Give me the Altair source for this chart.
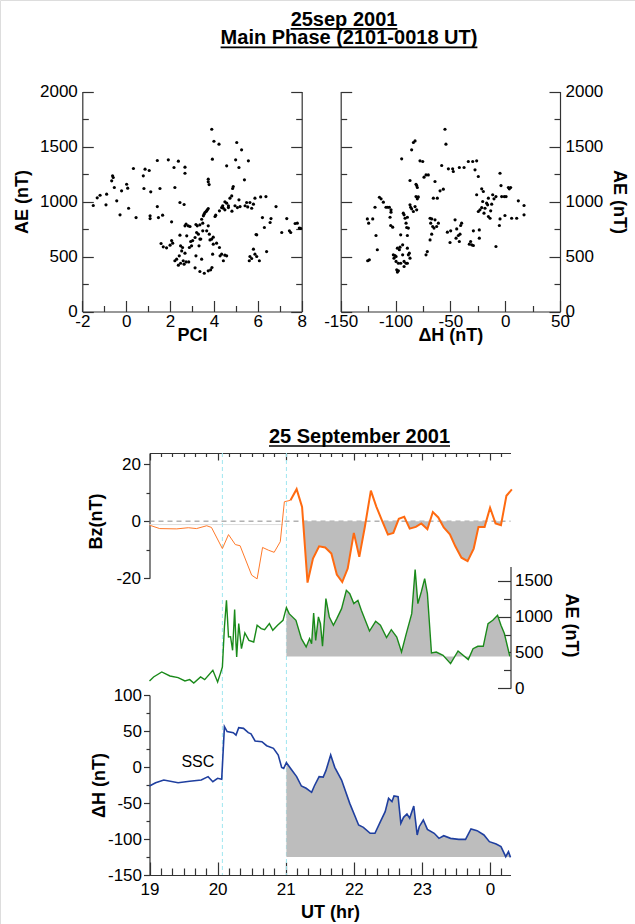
import altair as alt
import pandas as pd

FONT = "Liberation Sans"
AXC = "#333333"
VW, VH = 635, 924   # one view covering the whole page; every panel gets pixel ranges

# ---------------- scatter data (main phase) ----------------
pci_x = [-1.50, -1.32, -1.19, -0.89, -0.92, -0.66, -0.62, -0.59, -0.54, -0.43, -0.28, -0.21, 0.02, 0.07, 0.11,
         0.33, 0.45, 0.78, 0.81, 0.86, 1.05, 1.12, 1.09, 1.09, 1.42, 1.54, 1.42, 1.47, 1.66, 1.92, 2.07, 2.18,
         2.22, 2.38, 2.45, 2.64, 2.68, 2.68, 1.59, 1.69, 1.84, 2.00, 2.07, 2.12, 2.22, 2.30, 2.38, 2.42, 2.45,
         2.48, 2.53, 2.57, 2.60, 2.64, 2.68, 2.73, 2.85, 2.68, 2.73, 2.76, 2.83, 2.91, 2.94, 3.03, 3.14, 3.18,
         3.21, 3.29, 3.32, 3.36, 3.40, 3.44, 3.49, 3.52, 3.55, 3.59, 3.64, 3.67, 3.70, 3.74, 3.67, 3.74, 3.79,
         3.82, 3.90, 3.97, 3.49, 3.24, 3.36, 3.14, 3.36, 3.56, 3.74, 3.85, 3.91, 3.94, 3.97, 4.05, 4.08, 4.12,
         4.25, 4.28, 4.35, 4.43, 4.50, 4.58, 4.40, 4.50, 4.58, 4.66, 4.73, 4.81, 4.85, 4.88, 4.25, 4.35, 4.43,
         4.50, 4.66, 4.82, 4.96, 5.07, 5.14, 5.19, 5.42, 5.54, 5.49, 5.64, 5.72, 5.80, 5.87, 5.95, 5.92, 5.80,
         5.64, 5.72, 5.61, 5.87, 5.95, 6.07, 6.37, 6.40, 6.21, 6.30, 6.56, 6.60, 6.83, 7.09, 7.32, 7.44, 7.50,
         7.70, 7.80, 7.89, 7.95, 3.74, 3.78, 3.74, 3.90, 3.93, 4.00, 4.23, 4.58, 4.99, 5.04, 5.14, 5.26, 5.39,
         5.57, 6.13, 2.88, 2.98, 3.18, 3.44, 2.48]
pci_ae = [964, 1033, 1057, 1067, 970, 1188, 1233, 1218, 1127, 1006, 879, 1097, 1157, 1121, 939,
          1300, 854, 1233, 1118, 1294, 1282, 1088, 870, 845, 1373, 1118, 954, 854, 876, 1379, 815, 1309,
          1127, 1367, 991, 973, 1312, 1257, 618, 588, 579, 603, 645, 621, 461, 476, 421, 506, 694,
          597, 551, 582, 461, 430, 530, 451, 451, 779, 794, 688, 779, 773, 636, 645, 673, 791,
          718, 703, 597, 788, 658, 839, 803, 870, 885, 900, 909, 915, 924, 936, 733, 779, 703,
          651, 658, 676, 733, 779, 658, 397, 364, 348, 370, 379, 400, 521, 612, 864, 876, 621,
          582, 506, 521, 461, 512, 506, 961, 997, 985, 961, 1030, 1051, 1118, 1136, 915, 945, 939,
          924, 945, 912, 961, 945, 1015, 954, 961, 951, 991, 991, 939, 976, 1030, 697, 700, 567,
          500, 482, 461, 521, 500, 461, 1045, 545, 854, 764, 809, 845, 954, 718, 845, 733, 718,
          800, 803, 758, 755, 1179, 1154, 1203, 1657, 1385, 1548, 1521, 1324, 1379, 1536, 1309, 1470, 1197,
          1370, 1042, 582, 597, 506, 476, 439]

dh_x = [-125.4, -123.9, -125.7, -124.5, -120.8, -117.8, -116.6, -118.7, -114.7, -113.2, -111.1, -108.7, -107.1,
        -105.6, -104.1, -104.1, -105.0, -104.4, -102.6, -102.0, -100.5, -101.4, -99.5, -98.9, -98.3, -97.4,
        -99.5, -98.3, -96.5, -95.9, -95.3, -94.4, -93.5, -92.9, -92.2, -91.3, -90.4, -89.8, -89.2, -88.3,
        -89.2, -88.3, -87.4, -86.8, -93.5, -92.2, -90.4, -89.2, -92.2, -95.3, -97.4, -89.2, -86.8, -86.2,
        -85.3, -86.8, -85.3, -83.7, -82.2, -81.3, -80.7, -80.1, -79.2, -80.1, -81.3, -82.2, -83.7, -80.7,
        -77.7, -75.2, -74.0, -72.2, -70.1, -68.5, -67.9, -67.0, -66.1, -64.9, -64.0, -62.5, -60.9, -71.0,
        -72.2, -68.5, -67.0, -65.5, -64.0, -61.9, -59.4, -57.9, -56.4, -54.9, -54.0, -52.7, -51.8, -47.9,
        -49.7, -50.3, -47.3, -45.7, -44.8, -44.2, -42.7, -41.8, -41.2, -40.6, -39.7, -41.8, -37.5, -33.6,
        -32.7, -31.5, -30.5, -29.0, -29.0, -29.6, -27.5, -26.0, -24.5, -26.0, -24.5, -23.0, -23.6, -23.6,
        -21.4, -20.5, -19.9, -21.4, -19.3, -18.4, -16.9, -16.0, -15.3, -15.3, -13.8, -12.3, -13.2, -11.4,
        -10.2, -8.4, -4.7, -5.3, -4.7, -3.2, -0.8, 0.8, -0.2, 2.9, 3.8, 5.0, 5.9, 10.5, 12.0, 17.2, 17.2,
        -8.4, -3.8]
dh_ae = [461, 470, 842, 803, 842, 691, 561, 948, 1039, 1024, 994, 948, 948,
         948, 924, 903, 857, 782, 767, 515, 509, 485, 500, 379, 358, 370,
         455, 576, 561, 585, 697, 1388, 606, 894, 879, 848, 803, 764, 691, 758,
         576, 515, 530, 485, 515, 455, 439, 439, 409, 439, 439, 857, 970, 948,
         933, 1191, 1470, 1536, 1551, 1157, 1145, 1127, 1042, 1024, 1045, 954, 909, 924,
         1370, 1364, 1221, 1242, 1242, 848, 803, 842, 773, 758, 833, 773, 803, 545,
         515, 651, 703, 1030, 1182, 1030, 1097, 1327, 1112, 1657, 1521, 721, 1297, 1297,
         733, 627, 1273, 833, 667, 751, 691, 1309, 703, 782, 803, 636, 1309, 1364,
         612, 636, 606, 600, 733, 1364, 1288, 1370, 1227, 1061, 909, 924, 742, 667,
         945, 1000, 1091, 1115, 894, 939, 985, 970, 864, 1030, 848, 976, 915, 1061,
         1024, 1045, 1257, 782, 842, 1045, 1045, 1045, 873, 1127, 1115, 1127, 848, 848, 1006, 964, 879,
         591, 1145]

# ---------------- time series, 25 September 2001 (UT hours, 24 = 00 UT) ----------------
bz_t = [19.00, 19.15, 19.40, 19.57, 19.69, 19.84, 19.91, 20.07, 20.16, 20.26, 20.33, 20.50, 20.58, 20.66,
        20.75, 20.83, 20.92, 20.98, 21.07, 21.16, 21.24, 21.32, 21.40, 21.49, 21.58, 21.67, 21.75, 21.83,
        21.91, 22.00, 22.08, 22.16, 22.25, 22.33, 22.42, 22.50, 22.58, 22.66, 22.74, 22.82, 22.91, 22.99,
        23.08, 23.16, 23.24, 23.32, 23.41, 23.49, 23.58, 23.67, 23.76, 23.83, 23.92, 24.00, 24.08, 24.16,
        24.24, 24.32]
bz_v = [-1.4, -2.6, -2.7, -2.3, -2.6, -1.6, -2.2, -9.6, -4.7, -8.2, -8.6, -18.9, -20.2, -9.2,
        -10.2, -10.9, -7.2, 6.8, 7.3, 11.2, 5.0, -21.5, -13.1, -8.8, -9.2, -11.3, -18.7, -21.3,
        -16.6, -4.1, -12.5, -2.2, 10.7, 5.1, -0.2, -4.7, -4.1, 0.8, 1.5, -2.6, -2.0, -0.8,
        -2.8, 3.2, 1.3, -2.2, -4.6, -8.8, -12.8, -14.0, -9.6, -2.0, -2.0, 4.7, -0.8, -1.4,
        8.9, 11.1]

ae_t = [19.00, 19.06, 19.18, 19.30, 19.42, 19.52, 19.59, 19.65, 19.75, 19.81, 19.93, 20.00, 20.04, 20.07,
        20.10, 20.13, 20.16, 20.19, 20.22, 20.25, 20.27, 20.28, 20.31, 20.35, 20.40, 20.46, 20.53, 20.58,
        20.64, 20.69, 20.76, 20.81, 20.88, 20.96, 21.01, 21.05, 21.15, 21.23, 21.30, 21.35, 21.38, 21.41,
        21.44, 21.48, 21.51, 21.54, 21.59, 21.64, 21.70, 21.75, 21.82, 21.89, 21.94, 22.00, 22.06, 22.11,
        22.23, 22.32, 22.39, 22.48, 22.55, 22.63, 22.70, 22.77, 22.85, 22.90, 22.94, 22.99, 23.04, 23.08,
        23.14, 23.21, 23.31, 23.42, 23.53, 23.68, 23.75, 23.82, 23.90, 23.97, 24.04, 24.11, 24.16, 24.21,
        24.29]
ae_v = [102, 158, 228, 172, 149, 102, 121, 74, 158, 121, 251, 88, 205, 297,
        855, 1227, 716, 720, 530, 1097, 623, 437, 902, 553, 772, 669, 646, 879,
        832, 818, 902, 809, 879, 948, 1125, 1041, 948, 693, 577, 693, 623, 1050,
        669, 995, 902, 586, 1251, 995, 879, 972, 1111, 1367, 1320, 1181, 1227, 1088,
        799, 934, 879, 707, 818, 716, 506, 763, 1041, 1655, 1181, 1343, 1530, 1320,
        492, 506, 460, 344, 520, 400, 553, 586, 586, 902, 948, 1018, 879, 763,
        446]

dh_t = [19.00, 19.09, 19.21, 19.42, 19.59, 19.76, 19.86, 19.93, 20.00, 20.06, 20.10, 20.14, 20.23, 20.27,
        20.31, 20.38, 20.45, 20.49, 20.55, 20.65, 20.72, 20.82, 20.89, 20.94, 20.97, 21.01, 21.08, 21.16,
        21.23, 21.30, 21.38, 21.42, 21.49, 21.55, 21.59, 21.66, 21.72, 21.82, 21.94, 22.07, 22.14, 22.24,
        22.31, 22.39, 22.46, 22.51, 22.56, 22.59, 22.65, 22.69, 22.73, 22.78, 22.82, 22.88, 22.93, 22.96,
        23.02, 23.08, 23.18, 23.25, 23.32, 23.42, 23.54, 23.64, 23.72, 23.81, 23.91, 23.99, 24.09, 24.16,
        24.23, 24.27, 24.30]
dh_v = [-26.4, -21.8, -18.1, -21.8, -19.9, -18.1, -13.4, -20.4, -15.7, -17.1, 56.0, 49.1, 47.7, 44.4,
        54.6, 53.7, 47.7, 46.0, 36.1, 35.2, 29.6, 25.9, 16.7, -0.5, -1.9, 6.0, -3.2, -13.4,
        -26.4, -29.6, -35.2, -26.4, -13.4, -14.0, -5.1, 16.7, -0.5, -18.1, -50.5, -80.6, -83.8, -92.1,
        -92.1, -75.9, -62.0, -43.5, -48.0, -40.3, -41.2, -78.2, -69.9, -65.3, -71.0, -54.2, -94.4, -82.9,
        -73.6, -86.6, -92.1, -99.1, -95.4, -99.1, -100.5, -100.5, -86.1, -88.4, -94.4, -103.7, -106.9, -110.6,
        -124.5, -117.6, -125.5]

marker_times = [20.07, 21.01]      # SSC and main-phase onset markers
main_start = 21.0
ae_base = 442
dh_base = -125

hour_ticks = [19, 20, 21, 22, 23, 24]
minor_ticks = [19 + k / 6 for k in range(1, 32) if k % 6 != 0]

# ---------------- helpers ----------------
BASE_AX = dict(grid=False, domainColor=AXC, tickColor=AXC, domainWidth=1.2, tickWidth=1.2,
               labelFont=FONT, labelFontSize=17, labelColor="black", titleFont=FONT, titleFontSize=18,
               titleFontWeight="bold", titleColor="black", labelFlush=False, labelOverlap=False,
               labelExpr="datum.value + ''")


def ax(orient, pos, values, labels=False, ticks=0, domain=False, title=None, **kw):
    """axis whose line sits at pixel `pos` of the page-sized view; ticks point towards `orient`"""
    if orient in ("left", "top"):
        off = -pos
    elif orient == "right":
        off = pos - VW
    else:
        off = pos - VH
    d = dict(BASE_AX)
    d.update(orient=orient, offset=off, values=values, labels=labels, domain=domain, title=title)
    if ticks:
        d.update(ticks=True, tickSize=ticks)
    else:
        d.update(ticks=False)
    d.update(kw)
    return alt.Axis(**d)


ONE = pd.DataFrame({"k": [0]})


def text_at(s, xv, yv, size=20, weight="bold"):
    return alt.Chart(ONE).mark_text(
        font=FONT, fontSize=size, fontWeight=weight, color="black", align="center", baseline="alphabetic").encode(
        x=alt.value(xv), y=alt.value(yv), text=alt.value(s))


def underline(x0, x1, yv):
    return alt.Chart(ONE).mark_rule(color="black", strokeWidth=1.7).encode(
        x=alt.value(x0), x2=alt.value(x1), y=alt.value(yv))


# ---------------- scatter panels ----------------
SY0, SY1 = 91.5, 311.5          # top / bottom pixel of both scatter panels
SYC = (SY0 + SY1) / 2
YMAJ = [0, 500, 1000, 1500, 2000]
YMIN = [250, 750, 1250, 1750]


def scatter(xv, yv, xdom, xr, xmaj, xmin, xtitle, side):
    df = pd.DataFrame({"x": xv, "y": yv})
    xs = alt.Scale(domain=xdom, range=xr, nice=False, zero=False)
    ys = alt.Scale(domain=[0, 2000], range=[SY1, SY0], nice=False, zero=False)
    x0, x1 = xr
    xaxes = [ax("bottom", SY1, xmaj, labels=True, domain=True, title=xtitle, labelPadding=2,
                titleBaseline="middle", titleY=24),
             ax("top", SY1, xmaj, ticks=11), ax("top", SY1, xmin, ticks=6), None, None]
    if side == "left":
        yaxes = [ax("left", x0, YMAJ, labels=True, domain=True, title="AE (nT)", labelPadding=5,
                    titleAngle=270, titleAlign="center", titleBaseline="middle", titleX=22 - x0, titleY=SYC),
                 ax("right", x0, YMAJ, ticks=11), ax("right", x0, YMIN, ticks=6),
                 ax("left", x1, YMAJ, ticks=11, domain=True), ax("left", x1, YMIN, ticks=6)]
    else:
        yaxes = [ax("right", x1, YMAJ, labels=True, domain=True, title="AE (nT)", labelPadding=5,
                    titleAngle=90, titleAlign="center", titleBaseline="middle", titleX=618 - x1, titleY=SYC),
                 ax("left", x1, YMAJ, ticks=11), ax("left", x1, YMIN, ticks=6),
                 ax("right", x0, YMAJ, ticks=11, domain=True), ax("right", x0, YMIN, ticks=6)]
    out = []
    for i, (xa, ya) in enumerate(zip(xaxes, yaxes)):
        out.append(alt.Chart(df).mark_circle(size=10, color="black", opacity=1 if i == 0 else 0).encode(
            x=alt.X("x:Q", scale=xs, axis=xa), y=alt.Y("y:Q", scale=ys, axis=ya)))
    return out


left_layers = scatter(pci_x, pci_ae, [-2, 8], [82.3, 301.7], [-2, 0, 2, 4, 6, 8], [-1, 1, 3, 5, 7], "PCI", "left")
right_layers = scatter(dh_x, dh_ae, [-150, 50], [340.7, 560], [-150, -100, -50, 0, 50], [-125, -75, -25, 25],
                       "\u0394H (nT)", "right")

# ---------------- time-series panel ----------------
TX0, TX1 = 149.5, 510.5
TY0, TY1 = 453, 875


def xsc():
    return alt.Scale(domain=[19, 24.3], range=[TX0, TX1], nice=False, zero=False)


def bzs():
    return alt.Scale(domain=[-20, 23.86], range=[578.3, TY0], nice=False, zero=False)


def aes():
    return alt.Scale(domain=[0, 1700], range=[688.3, 566.4], nice=False, zero=False)


def dhs():
    return alt.Scale(domain=[-150, 100], range=[TY1, 695], nice=False, zero=False)


def X(ax_, field="t:Q"):
    return alt.X(field, scale=xsc(), axis=ax_)


bz_df = pd.DataFrame({"t": bz_t, "v": bz_v})
ae_df = pd.DataFrame({"t": ae_t, "v": ae_v})
dh_df = pd.DataFrame({"t": dh_t, "v": dh_v})

# southward-Bz shading after main-phase onset (closed at the line's zero crossings)
fill_pts = []
pts = [(t, v) for t, v in zip(bz_t, bz_v) if t >= main_start]
for i, (t, v) in enumerate(pts):
    if i > 0:
        tp, vp = pts[i - 1]
        if (vp < 0) != (v < 0) and vp != v:
            fill_pts.append((tp + (0 - vp) * (t - tp) / (v - vp), 0.0))
    fill_pts.append((t, min(v, 0.0)))
bzfill_df = pd.DataFrame({"t": [p[0] for p in fill_pts], "v": [p[1] for p in fill_pts]})
bzfill_df["z"] = 0.0

aefill_df = ae_df[ae_df.t >= main_start].copy()
aefill_df["b"] = ae_base
dhfill_df = dh_df[dh_df.t >= main_start].copy()
dhfill_df["b"] = dh_base

cyan = alt.Chart(pd.DataFrame({"t": marker_times})).mark_rule(
    color="#9fe6f0", strokeDash=[4, 3], strokeWidth=1).encode(
    x=X(ax("bottom", TY1, hour_ticks, labels=True, domain=True, labelExpr="(datum.value % 24) + ''",
           labelPadding=6, title="UT (hr)", titleBaseline="middle", titleY=37)),
    y=alt.value(TY0), y2=alt.value(TY1))

zero = alt.Chart(pd.DataFrame({"t0": [19.0], "t1": [24.3], "v": [0]})).mark_rule(
    color="#8a8a8a", strokeDash=[5, 4], strokeWidth=1).encode(
    x=X(ax("top", TY1, hour_ticks, ticks=13), "t0:Q"), x2="t1:Q",
    y=alt.Y("v:Q", scale=bzs(),
            axis=ax("left", TX0, [-20, 0, 20], labels=True, ticks=6, domain=True, labelPadding=3,
                    title="Bz(nT)", titleAngle=270, titleAlign="center", titleBaseline="middle",
                    titleX=-53.5, titleY=521)))

faint = alt.Chart(pd.DataFrame({"t0": [19.0], "t1": [20.96], "v": [-1.2]})).mark_rule(
    color="#dddddd", strokeWidth=1).encode(
    x=X(ax("top", TY1, minor_ticks, ticks=7), "t0:Q"), x2="t1:Q",
    y=alt.Y("v:Q", scale=bzs(), axis=ax("left", TX0, [-10, 10], ticks=3.5)))

bzfill = alt.Chart(bzfill_df).mark_area(color="#bdbdbd", opacity=1).encode(
    x=X(ax("bottom", TY0, hour_ticks, ticks=7, domain=True)),
    y=alt.Y("v:Q", scale=bzs(), axis=None), y2="z:Q")

bz_thin = alt.Chart(bz_df[bz_df.t <= 21.07]).mark_line(color="#ff7a2a", strokeWidth=1).encode(
    x=X(ax("bottom", TY0, minor_ticks, ticks=3.5)), y=alt.Y("v:Q", scale=bzs(), axis=None))
bz_thick = alt.Chart(bz_df[bz_df.t >= 21.07]).mark_line(color="#ff6a10", strokeWidth=2).encode(
    x=X(None), y=alt.Y("v:Q", scale=bzs(), axis=None))

aefill = alt.Chart(aefill_df).mark_area(color="#bdbdbd", opacity=1).encode(
    x=X(None),
    y=alt.Y("v:Q", scale=aes(),
            axis=ax("right", TX1, [0, 500, 1000, 1500], labels=True, domain=True, labelPadding=4,
                    title="AE (nT)", titleAngle=90, titleAlign="center", titleBaseline="middle",
                    titleX=59.5, titleY=625)),
    y2="b:Q")

ae_line = alt.Chart(ae_df).mark_line(color="#1a8a1a", strokeWidth=1.4).encode(
    x=X(None), y=alt.Y("v:Q", scale=aes(), axis=ax("left", TX1, [0, 500, 1000, 1500], ticks=13)))
ae_ticks = alt.Chart(ae_df).mark_line(opacity=0).encode(
    x=X(None), y=alt.Y("v:Q", scale=aes(), axis=ax("left", TX1, [250, 750, 1250], ticks=7)))

dhfill = alt.Chart(dhfill_df).mark_area(color="#bdbdbd", opacity=1).encode(
    x=X(None),
    y=alt.Y("v:Q", scale=dhs(),
            axis=ax("left", TX0, [-150, -100, -50, 0, 50, 100], labels=True, ticks=6, domain=True,
                    labelPadding=2, title="\u0394H (nT)", titleAngle=270, titleAlign="center",
                    titleBaseline="middle", titleX=-50, titleY=785)),
    y2="b:Q")

dh_line = alt.Chart(dh_df).mark_line(color="#1f3f9f", strokeWidth=1.6).encode(
    x=X(None), y=alt.Y("v:Q", scale=dhs(), axis=ax("left", TX0, [-125, -75, -25, 25, 75], ticks=3.5)))

ssc = alt.Chart(pd.DataFrame({"t": [19.71], "v": [7], "s": ["SSC"]})).mark_text(
    font=FONT, fontSize=16, color="black", align="center", baseline="middle").encode(
    x=X(None), y=alt.Y("v:Q", scale=dhs(), axis=None), text="s:N")

titles = [
    text_at("25sep 2001", 344, 26), underline(290.6, 397.4, 28.8),
    text_at("Main Phase (2101-0018 UT)", 349, 43.5), underline(220.6, 477.4, 47.3),
    text_at("25 September 2001", 359.5, 443), underline(269, 450, 446),
]

chart = alt.layer(
    *left_layers, *right_layers,
    cyan, zero, faint, bzfill, aefill, dhfill, bz_thin, bz_thick, ae_line, ae_ticks, dh_line, ssc,
    *titles,
).properties(
    width=VW, height=VH, padding=0, autosize=alt.AutoSizeParams(type="none"),
).resolve_scale(x="independent", y="independent").resolve_axis(
    x="independent", y="independent").configure_view(stroke=None).configure(font=FONT)

chart.save("out.html", embed_options={"renderer": "svg", "actions": False})
